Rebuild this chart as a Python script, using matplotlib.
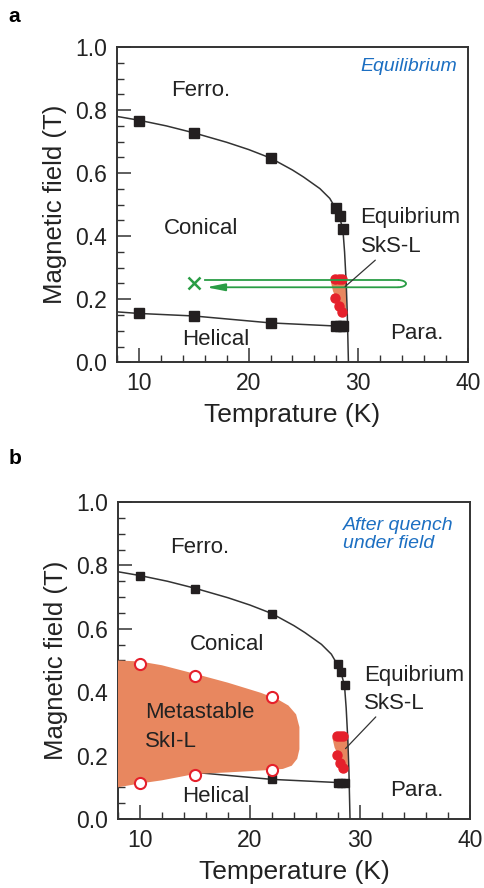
import matplotlib
matplotlib.use("Agg")
from matplotlib import pyplot as plt
from matplotlib.patches import Polygon, Arc
from matplotlib.ticker import MultipleLocator

plt.rcParams['font.family'] = ['Liberation Sans', 'DejaVu Sans']

# phase boundary data (K, T)
upper_T = [10, 15, 22, 28.0, 28.3, 28.6]
upper_B = [0.767, 0.727, 0.647, 0.489, 0.465, 0.423]
lower_T = [10, 15, 22, 28.0, 28.3, 28.6]
lower_B = [0.155, 0.147, 0.125, 0.115, 0.115, 0.115]

# guide lines through the boundary points
upper_line_T = [8, 10, 12.5, 15, 18, 20, 22, 24, 25, 26.5, 27.4, 27.9, 28.3, 28.6, 28.75, 28.9, 29.0, 29.1]
upper_line_B = [0.78, 0.768, 0.75, 0.728, 0.698, 0.675, 0.648, 0.61, 0.588, 0.551, 0.52, 0.49, 0.46, 0.42, 0.35, 0.25, 0.15, 0.0]
lower_line_T = [8, 10, 15, 22, 28.0, 28.9]
lower_line_B = [0.16, 0.155, 0.147, 0.125, 0.115, 0.113]

# equilibrium SkS-L points
sks_T = [27.9, 28.2, 28.5, 27.9, 28.2, 28.5]
sks_B = [0.263, 0.263, 0.263, 0.203, 0.178, 0.16]
sks_region_T = [27.5, 27.9, 28.9, 28.9, 28.2, 27.7]
sks_region_B = [0.255, 0.27, 0.27, 0.155, 0.19, 0.225]

# metastable SkI-L (after quench)
meta_T = [10, 15, 22, 22, 15, 10]
meta_B = [0.49, 0.451, 0.384, 0.155, 0.140, 0.112]
meta_region_T = [8.0, 10, 12, 15, 18, 21, 22.5, 23.5, 24.2, 24.5, 24.5, 24.3, 23.8, 23, 22, 18, 15, 12, 10, 8]
meta_region_B = [0.50, 0.497, 0.485, 0.458, 0.43, 0.398, 0.378, 0.358, 0.33, 0.29, 0.22, 0.19, 0.168, 0.158, 0.155, 0.147, 0.142, 0.122, 0.112, 0.10]

# field-cooling path
start_T, start_B = 15, 0.25
loop_left, loop_right = 16.0, 33.6
loop_top, loop_bottom = 0.261, 0.238

black = '#231f20'
red = '#e5202b'
orange = '#e8875f'
green = '#2a9d45'
blue = '#1c6fc2'


def setup(ax, xlabel):
    ax.set_xlim(8, 40)
    ax.set_ylim(0, 1.0)
    ax.xaxis.set_major_locator(MultipleLocator(10))
    ax.xaxis.set_minor_locator(MultipleLocator(2))
    ax.yaxis.set_major_locator(MultipleLocator(0.2))
    ax.yaxis.set_minor_locator(MultipleLocator(0.05))
    ax.yaxis.set_major_formatter(plt.FormatStrFormatter('%.1f'))
    ax.tick_params(which='both', direction='in', top=False, right=False, colors='#333333', labelcolor='#222222')
    ax.tick_params(which='major', length=10, width=1.1, labelsize=16.5, pad=7)
    ax.tick_params(which='minor', length=5, width=1.0)
    for s in ax.spines.values():
        s.set_color('#333333')
        s.set_linewidth(1.4)
    ax.set_xlabel(xlabel, fontsize=19, color='#222222', labelpad=6)
    ax.set_ylabel('Magnetic field (T)', fontsize=18.5, color='#222222', labelpad=6)


def boundaries(ax, ms):
    ax.plot(upper_line_T, upper_line_B, color='#333333', lw=1.1, zorder=2)
    ax.plot(lower_line_T, lower_line_B, color='#333333', lw=1.1, zorder=2)
    ax.plot(upper_T, upper_B, 's', color=black, ms=ms, zorder=3)
    ax.plot(lower_T, lower_B, 's', color=black, ms=ms, zorder=3)
    ax.add_patch(Polygon(list(zip(sks_region_T, sks_region_B)), closed=True, fc=orange, ec='none', zorder=1))
    ax.plot(sks_T, sks_B, 'o', color=red, ms=6.5, zorder=4)


def labels(ax, pos):
    kw = dict(fontsize=16, color='#222222')
    for txt, (x, y), ha in pos:
        ax.text(x, y, txt, ha=ha, va='center', zorder=7, **kw)


fig = plt.figure(figsize=(4.85, 8.88), dpi=100)
ax1 = fig.add_axes([0.241, 0.592, 0.724, 0.355])
ax2 = fig.add_axes([0.243, 0.0777, 0.726, 0.357])

# panel a
setup(ax1, 'Temprature (K)')
boundaries(ax1, 6.5)
ax1.plot([start_T], [start_B], 'x', color=green, ms=9, mew=1.8, zorder=5)
ax1.plot([loop_left, loop_right], [loop_top, loop_top], color=green, lw=1.3, zorder=5)
ax1.add_patch(Arc((loop_right, (loop_top + loop_bottom) / 2), 1.5, loop_top - loop_bottom,
                  theta1=-90, theta2=90, color=green, lw=1.3, zorder=5))
ax1.annotate('', xy=(loop_left + 0.15, loop_bottom), xytext=(loop_right, loop_bottom),
             arrowprops=dict(arrowstyle='-|>,head_length=1.1,head_width=0.22', color=green, lw=1.3,
                             shrinkA=0, shrinkB=0), zorder=5)
ax1.annotate('', xy=(28.8, 0.24), xytext=(31.55, 0.324),
             arrowprops=dict(arrowstyle='-', color='#333333', lw=0.9, shrinkA=0, shrinkB=0), zorder=6)
labels(ax1, [('Ferro.', (15.6, 0.863), 'center'),
             ('Conical', (15.7, 0.426), 'center'),
             ('Helical', (17.0, 0.073), 'center'),
             ('Para.', (35.3, 0.091), 'center'),
             ('Equibrium', (30.2, 0.459), 'left'),
             ('SkS-L', (30.2, 0.366), 'left')])
ax1.text(39.0, 0.937, 'Equilibrium', ha='right', va='center', fontsize=14, style='italic', color=blue)
fig.text(0.018, 0.981, 'a', fontsize=15, fontweight='bold', va='center')

# panel b
setup(ax2, 'Temperature (K)')
boundaries(ax2, 5.5)
ax2.add_patch(Polygon(list(zip(meta_region_T, meta_region_B)), closed=True, fc=orange, ec='none', zorder=3.5))
ax2.plot(meta_T, meta_B, 'o', mfc='white', mec=red, mew=1.5, ms=8, zorder=4)
ax2.annotate('', xy=(28.69, 0.222), xytext=(31.44, 0.322),
             arrowprops=dict(arrowstyle='-', color='#333333', lw=0.9, shrinkA=0, shrinkB=0), zorder=6)
labels(ax2, [('Ferro.', (15.4, 0.856), 'center'),
             ('Conical', (17.9, 0.551), 'center'),
             ('Metastable', (10.5, 0.335), 'left'),
             ('SkI-L', (10.5, 0.244), 'left'),
             ('Helical', (16.9, 0.070), 'center'),
             ('Para.', (35.15, 0.089), 'center'),
             ('Equibrium', (30.4, 0.454), 'left'),
             ('SkS-L', (30.4, 0.364), 'left')])
ax2.text(28.5, 0.897, 'After quench\nunder field', ha='left', va='center', fontsize=14,
         style='italic', color=blue, linespacing=1.1)
fig.text(0.018, 0.484, 'b', fontsize=15, fontweight='bold', va='center')

fig.savefig('out.png', dpi=100)
